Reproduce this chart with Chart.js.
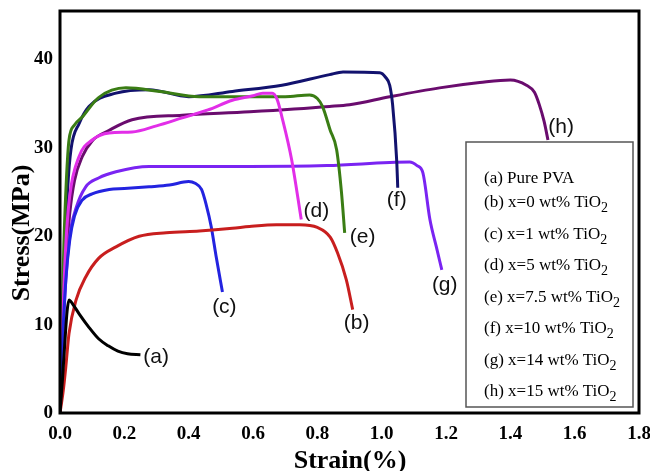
<!DOCTYPE html>
<html>
<head>
<meta charset="utf-8">
<script src="https://cdn.jsdelivr.net/npm/chart.js@4.4.1/dist/chart.umd.min.js"></script>
<style>
  body { margin: 0; background: #fff; }
  #wrap { width: 650px; height: 471px; }
</style>
</head>
<body>
<div id="wrap"><canvas id="stressChart" width="650" height="471"></canvas></div>
<script>
// values (strain in %, stress in MPa)
const strainA = [0, 0.008, 0.016, 0.022, 0.028, 0.04, 0.06, 0.09, 0.12, 0.15, 0.18, 0.21, 0.25];
const stressA = [0, 4, 8.5, 11.5, 12.8, 12.3, 11.2, 9.7, 8.4, 7.6, 7.0, 6.7, 6.6];

const strainB = [0, 0.01, 0.018, 0.028, 0.05, 0.08, 0.12, 0.174, 0.246, 0.33, 0.433, 0.536, 0.589, 0.673, 0.745, 0.80, 0.84, 0.863, 0.89, 0.91];
const stressB = [0, 2.5, 5.2, 9, 12.8, 15.4, 17.5, 18.8, 20, 20.4, 20.6, 20.9, 21.1, 21.3, 21.3, 21, 19.9, 18.1, 15.1, 11.7];

const strainC = [0, 0.008, 0.018, 0.03, 0.045, 0.069, 0.1, 0.153, 0.2, 0.277, 0.34, 0.40, 0.42, 0.44, 0.455, 0.47, 0.485, 0.505];
const stressC = [0, 8, 15, 19.5, 22.3, 24.1, 24.8, 25.3, 25.4, 25.6, 25.8, 26.2, 26.0, 25.3, 23.5, 21.1, 17.8, 13.7];

const strainD = [0, 0.008, 0.018, 0.03, 0.059, 0.1, 0.153, 0.224, 0.3, 0.38, 0.46, 0.536, 0.6, 0.63, 0.66, 0.675, 0.69, 0.72, 0.75];
const stressD = [0, 10, 19, 24.5, 29, 30.9, 31.7, 31.8, 32.5, 33.4, 34.3, 35.4, 35.9, 36.2, 36.2, 35.5, 33.5, 28.7, 21.9];

const strainE = [0, 0.006, 0.012, 0.02, 0.028, 0.045, 0.069, 0.12, 0.205, 0.31, 0.433, 0.59, 0.7, 0.776, 0.8, 0.816, 0.84, 0.86, 0.875, 0.885];
const stressE = [0, 10, 19, 26.5, 30.9, 32.6, 33.5, 35.7, 36.8, 36.4, 35.8, 35.8, 35.8, 36.0, 35.6, 34.7, 32, 29.8, 25, 20.4];

const strainF = [0, 0.007, 0.015, 0.024, 0.034, 0.06, 0.09, 0.174, 0.277, 0.40, 0.536, 0.69, 0.838, 0.88, 0.994, 1.012, 1.025, 1.034, 1.047, 1.05];
const stressF = [0, 9, 18, 25.5, 29.8, 32.8, 34.7, 36.2, 36.6, 35.8, 36.4, 37.1, 38.3, 38.6, 38.5, 38.0, 37.1, 34.9, 28.4, 25.5];

const strainG = [0, 0.008, 0.018, 0.03, 0.05, 0.08, 0.12, 0.174, 0.277, 0.59, 0.83, 1.087, 1.11, 1.128, 1.15, 1.17, 1.187];
const stressG = [0, 8, 15, 20, 23.2, 25.6, 26.6, 27.3, 27.9, 27.9, 28, 28.4, 28.0, 27.2, 21.9, 18.8, 16.2];

const strainH = [0, 0.008, 0.018, 0.03, 0.045, 0.069, 0.1, 0.153, 0.224, 0.38, 0.59, 0.838, 0.90, 1.025, 1.18, 1.305, 1.40, 1.45, 1.475, 1.49, 1.505, 1.517];
const stressH = [0, 9, 17, 22.5, 26.3, 29, 30.8, 32, 33.2, 33.7, 34.1, 34.7, 34.9, 35.8, 36.8, 37.4, 37.7, 37.1, 36.3, 34.9, 33, 30.9];

const seriesNames = ['(a) Pure PVA', '(b) x=0 wt% TiO', '(c) x=1 wt% TiO', '(d) x=5 wt% TiO',
  '(e) x=7.5 wt% TiO', '(f) x=10 wt% TiO', '(g) x=14 wt% TiO', '(h) x=15 wt% TiO'];
const curveTags = ['(a)', '(b)', '(c)', '(d)', '(e)', '(f)', '(g)', '(h)'];
const tagStrain = [0.299, 0.922, 0.511, 0.797, 0.941, 1.047, 1.196, 1.558];
const tagStress = [6.3, 10.2, 12.0, 22.8, 19.9, 24.1, 14.5, 32.4];

const xTicks = [0, 0.2, 0.4, 0.6, 0.8, 1.0, 1.2, 1.4, 1.6, 1.8];
const yTicks = [0, 10, 20, 30, 40];

const colors = ['#000000', '#c81e1e', '#2323e0', '#e22ee8', '#3a7d14', '#12126e', '#7a24f2', '#6a0c6e'];
const strains = [strainA, strainB, strainC, strainD, strainE, strainF, strainG, strainH];
const stresses = [stressA, stressB, stressC, stressD, stressE, stressF, stressG, stressH];

const datasets = strains.map((xs, i) => ({
  label: curveTags[i],
  data: xs.map((x, j) => ({ x: x, y: stresses[i][j] })),
  borderColor: colors[i],
  borderWidth: 3,
  pointRadius: 0,
  showLine: true,
  fill: false,
  cubicInterpolationMode: 'monotone'
}));

const decorPlugin = {
  id: 'decor',
  afterDraw(chart) {
    const ctx = chart.ctx;
    const a = chart.chartArea;
    const xs = chart.scales.x, ys = chart.scales.y;
    ctx.save();
    // frame
    ctx.strokeStyle = '#000';
    ctx.lineWidth = 3;
    ctx.strokeRect(a.left, a.top, a.right - a.left, a.bottom - a.top);

    // curve tags
    ctx.fillStyle = '#111';
    ctx.font = '21px "Liberation Sans", Arial, sans-serif';
    ctx.textAlign = 'center';
    ctx.textBaseline = 'middle';
    curveTags.forEach((t, i) => {
      ctx.fillText(t, xs.getPixelForValue(tagStrain[i]), ys.getPixelForValue(tagStress[i]));
    });

    // legend box
    ctx.fillStyle = '#fff';
    ctx.fillRect(466, 142, 167, 265);
    ctx.strokeStyle = '#555';
    ctx.lineWidth = 1.5;
    ctx.strokeRect(466, 142, 167, 265);
    ctx.fillStyle = '#000';
    ctx.textAlign = 'left';
    ctx.textBaseline = 'alphabetic';
    seriesNames.forEach((name, i) => {
      const y = (i === 0 ? 178 : 202 + (i - 1) * 31.5) + 5;
      ctx.font = '17px "Liberation Serif", "Times New Roman", serif';
      ctx.fillText(name, 484, y);
      if (i > 0) {
        const w = ctx.measureText(name).width;
        ctx.font = '14px "Liberation Serif", "Times New Roman", serif';
        ctx.fillText('2', 484 + w, y + 5);
      }
    });

    // axis titles
    ctx.font = 'bold 26px "Liberation Serif", "Times New Roman", serif';
    ctx.textAlign = 'center';
    ctx.fillText('Strain(%)', 350, 468);
    ctx.translate(29, 233);
    ctx.rotate(-Math.PI / 2);
    ctx.fillText('Stress(MPa)', 0, 0);
    ctx.restore();
  }
};

new Chart(document.getElementById('stressChart'), {
  type: 'scatter',
  data: { datasets: datasets },
  options: {
    responsive: false,
    animation: false,
    layout: { padding: { left: 0, top: 11, right: 11, bottom: 0 } },
    plugins: { legend: { display: false }, tooltip: { enabled: false } },
    scales: {
      x: {
        type: 'linear', min: 0, max: 1.8,
        grid: { display: false, drawTicks: false },
        border: { display: false },
        afterBuildTicks: (s) => { s.ticks = xTicks.map(v => ({ value: v })); },
        afterFit: (s) => { s.height = 58; s.paddingLeft = 0; s.paddingRight = 0; },
        ticks: {
          padding: 10, color: '#000', maxRotation: 0, autoSkip: false,
          font: { family: '"Liberation Serif", "Times New Roman", serif', size: 19, weight: 'bold' },
          callback: (v) => Number(v).toFixed(1)
        }
      },
      y: {
        type: 'linear', min: 0, max: 45.5,
        grid: { display: false, drawTicks: false },
        border: { display: false },
        afterBuildTicks: (s) => { s.ticks = yTicks.map(v => ({ value: v })); },
        afterFit: (s) => { s.width = 60; s.paddingTop = 0; s.paddingBottom = 0; },
        ticks: {
          padding: 7, color: '#000',
          font: { family: '"Liberation Serif", "Times New Roman", serif', size: 19, weight: 'bold' }
        }
      }
    }
  },
  plugins: [decorPlugin]
});
</script>
</body>
</html>
